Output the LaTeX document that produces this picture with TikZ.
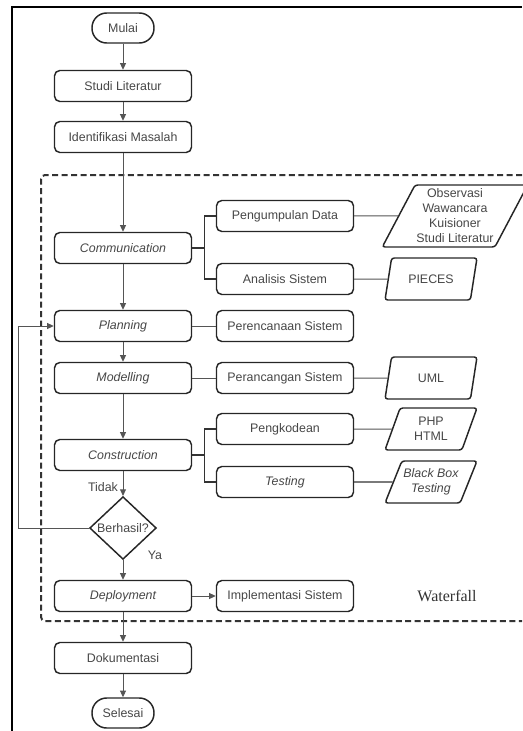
\documentclass[tikz,border=0pt]{standalone}
\usepackage{fontspec}
\setmainfont{Liberation Sans}
\newfontfamily\wffont{Liberation Serif}
\usetikzlibrary{shapes.geometric}
\usetikzlibrary{arrows.meta}

\definecolor{txtgray}{RGB}{70,70,70}
\definecolor{linegray}{RGB}{85,85,85}

\begin{document}
\begin{tikzpicture}[x=0.75pt,y=0.75pt,yscale=-1,xscale=1,
  every node/.style={font=\fontsize{9.3}{11.25}\selectfont, text=txtgray},
  proc/.style={draw=black!85, line width=1.1pt, rounded corners=4pt, minimum width=102.75pt, minimum height=23.25pt, inner sep=0pt},
  term/.style={draw=black!85, line width=1.1pt, rounded corners=11pt, minimum width=46.5pt, minimum height=22.5pt, inner sep=0pt},
  data/.style={trapezium, trapezium left angle=60, trapezium right angle=120, trapezium stretches body, draw=black!85, line width=1.1pt, rounded corners=2pt, minimum width=69pt, minimum height=31.5pt, inner xsep=1pt, inner ysep=1pt, align=center},
  decision/.style={diamond, draw=black!85, line width=1.1pt, minimum width=50pt, minimum height=47pt, inner sep=0pt},
  flow/.style={draw=linegray, line width=0.75pt, -{Triangle[length=5pt,width=4.5pt]}},
  link/.style={draw=linegray, line width=0.75pt},
  bracket/.style={draw=black!80, line width=1.1pt}]
%uncomment if require: \path (0,731); %set diagram left start at 0, and has height of 731
\useasboundingbox (0,0) rectangle (522,731);

%Straight Lines: page frame
\draw [line width=1.5pt]  (11.5,731) -- (11.5,7) -- (522,7) ;
%Shape: Dashed box (Waterfall)
\draw [draw=black!80, line width=1.5pt, dash pattern={on 4.5pt off 2.6pt}, rounded corners=3pt]  (522,175) -- (41,175) -- (41,621) -- (522,621) ;

%Shape: Terminal
\node [term] (mulai) at (123,28) {Mulai};
%Shape: Rounded Rect
\node [proc] (studi) at (123,86) {Studi Literatur};
\node [proc] (identifikasi) at (123,137) {Identifikasi Masalah};

\node [proc] (comm) at (123,248) {\itshape Communication};
\node [proc] (kumpul) at (285,216) {Pengumpulan Data};
\node [proc] (analisis) at (285,279) {Analisis Sistem};
%Shape: Parallelogram
\node [data, minimum width=102pt, minimum height=46.5pt] (obs) at (455,216) {Observasi\\Wawancara\\Kuisioner\\Studi Literatur};
\node [data] (pieces) at (431,279) {PIECES};

\node [proc] (plan) at (123,326) {\itshape Planning};
\node [proc] (rencana) at (285,326) {Perencanaan Sistem};

\node [proc] (model) at (123,378) {\itshape Modelling};
\node [proc] (rancang) at (285,378) {Perancangan Sistem};
\node [data] (uml) at (431,378) {UML};

\node [proc] (cons) at (123,455) {\itshape Construction};
\node [proc] (kode) at (285,429) {Pengkodean};
\node [proc] (testing) at (285,482) {\itshape Testing};
\node [data] (php) at (431,429) {PHP\\HTML};
\node [data] (bbt) at (431,482) {\itshape Black Box\\\itshape Testing};

%Shape: Diamond
\node [decision] (berhasil) at (123,528) {Berhasil?};

\node [proc] (deploy) at (123,596) {\itshape Deployment};
\node [proc] (impl) at (285,596) {Implementasi Sistem};

\node [proc] (dok) at (123,658) {Dokumentasi};
\node [term] (selesai) at (123,713) {Selesai};

%Straight Lines: main flow
\draw [flow] (mulai) -- (studi) ;
\draw [flow] (studi) -- (identifikasi) ;
\draw [flow] (identifikasi) -- (comm) ;
\draw [flow] (comm) -- (plan) ;
\draw [flow] (plan) -- (model) ;
\draw [flow] (model) -- (cons) ;
\draw [flow] (cons) -- (berhasil) ;
\draw [flow] (berhasil) -- (deploy) ;
\draw [flow] (deploy) -- (dok) ;
\draw [flow] (dok) -- (selesai) ;
\draw [flow] (deploy) -- (impl) ;
%Straight Lines: loop back
\draw [flow] (berhasil.west) -- ++(-70,0) |- (plan.west) ;

%Straight Lines: brackets
\draw [bracket] (comm.east) -- ++(12,0) |- (kumpul.west) ;
\draw [bracket] (comm.east) -- ++(12,0) |- (analisis.west) ;
\draw [bracket] (cons.east) -- ++(12,0) |- (kode.west) ;
\draw [bracket] (cons.east) -- ++(12,0) |- (testing.west) ;

%Straight Lines: side links
\draw [link] (kumpul) -- (obs) ;
\draw [link] (analisis) -- (pieces) ;
\draw [link] (plan) -- (rencana) ;
\draw [link] (model) -- (rancang) ;
\draw [link] (rancang) -- (uml) ;
\draw [link] (kode) -- (php) ;
\draw [bracket] (testing) -- (bbt) ;

% Text Node
\node (tidak) at (103,487) {Tidak};
% Text Node
\node (ya) at (155,555) {Ya};
% Text Node
\node [font=\wffont\fontsize{12}{14}\selectfont, text=black!80] (waterfall) at (447,596) {Waterfall};

\end{tikzpicture}
\end{document}
